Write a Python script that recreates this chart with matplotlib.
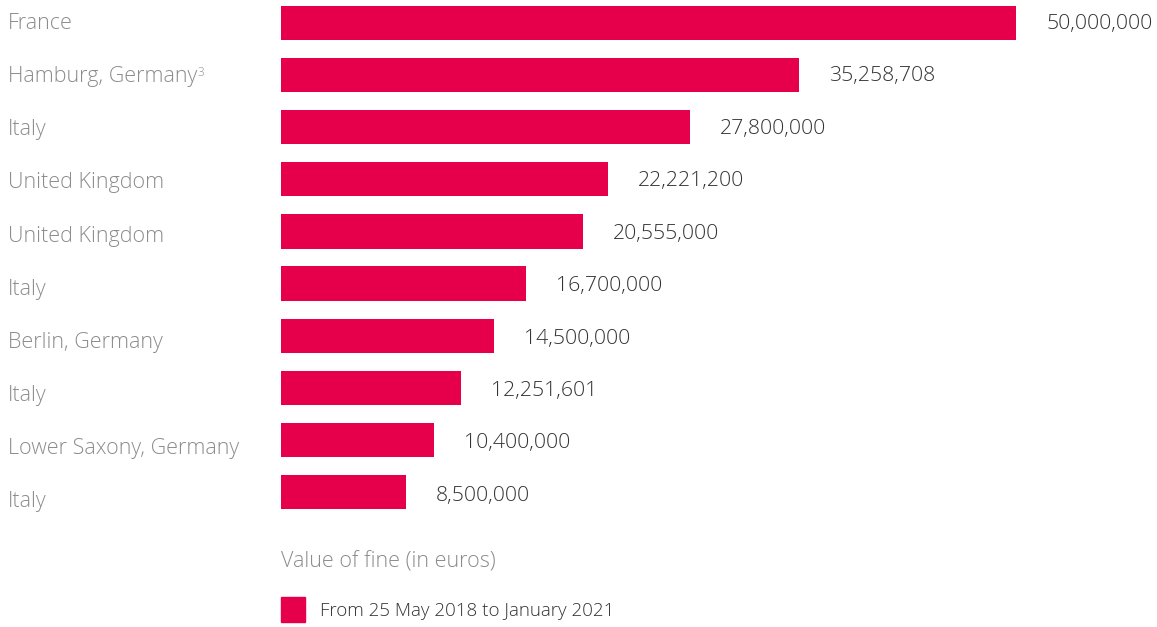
import matplotlib.pyplot as plt
import matplotlib.transforms as mtransforms
from matplotlib.patches import Rectangle

plt.rcParams['font.family'] = ['Open Sans', 'DejaVu Sans']

countries = ['France', 'Hamburg, Germany', 'Italy', 'United Kingdom', 'United Kingdom',
             'Italy', 'Berlin, Germany', 'Italy', 'Lower Saxony, Germany', 'Italy']
fines = [50000000, 35258708, 27800000, 22221200, 20555000,
         16700000, 14500000, 12251601, 10400000, 8500000]
footnotes = {1: '3'}
axis_title = 'Value of fine (in euros)'
series_name = 'From 25 May 2018 to January 2021'

bar_color = '#E6004C'
label_grey = '#8C8C8C'
value_dark = '#333333'

W, H = 1157, 627
fig = plt.figure(figsize=(W / 100, H / 100), dpi=100)
ax = fig.add_axes([281 / W, 1 - 513 / H, (1016 - 281) / W, (513 - 2) / H])

y = list(range(len(countries)))
ax.barh(y, fines, height=0.66, color=bar_color)
ax.set_xlim(0, max(fines))
ax.set_ylim(len(countries) - 0.6, -0.4)
ax.axis('off')

# value labels at bar end
for yi, v in zip(y, fines):
    ax.annotate(f'{v:,}', xy=(v, yi), xytext=(30, -1 - 0.3 * yi), textcoords='offset pixels',
                va='center', ha='left', fontsize=15.3, fontweight='light',
                color=value_dark, annotation_clip=False)

# category labels at the left edge of the figure
trans = mtransforms.blended_transform_factory(fig.transFigure, ax.transData)
for yi, name in zip(y, countries):
    t = ax.annotate(name, xy=(8 / W, yi), xycoords=trans, xytext=(0, -1 - 0.9 * yi),
                    textcoords='offset pixels', va='center', ha='left',
                    fontsize=15.5, fontweight='light', color=label_grey)
    if yi in footnotes:
        ax.annotate(footnotes[yi], xy=(1, 1.0), xycoords=t, va='top', ha='left',
                    fontsize=8.5, fontweight='light', color=label_grey)

fig.text(281 / W, 1 - 562 / H, axis_title, va='center', ha='left',
         fontsize=15.5, fontweight='light', color=label_grey)

# legend
fig.patches.append(Rectangle((281 / W, 1 - 622 / H), 24 / W, 25 / H,
                             transform=fig.transFigure, color=bar_color))
fig.text(320 / W, 1 - 611 / H, series_name, va='center', ha='left',
         fontsize=13.5, fontweight='light', color=value_dark)

fig.savefig('out.png', dpi=100)
